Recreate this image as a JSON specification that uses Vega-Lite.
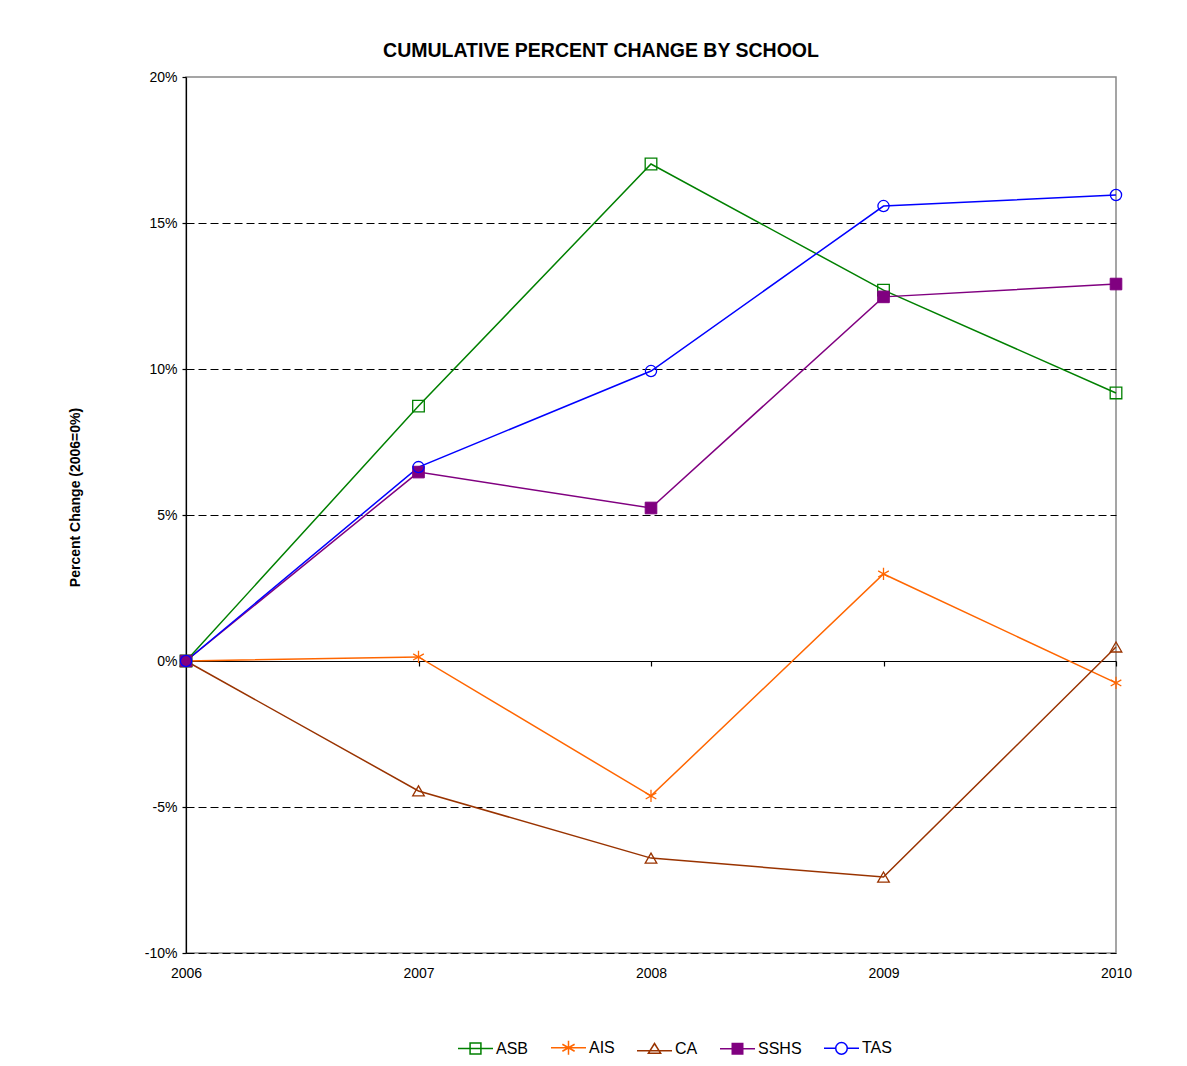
{
  "$schema": "https://vega.github.io/schema/vega-lite/v6.json",
  "width": 930,
  "height": 876,
  "autosize": "none",
  "padding": {"left": 186, "top": 77, "right": 71, "bottom": 113},
  "background": "white",
  "title": {
    "text": "CUMULATIVE PERCENT CHANGE BY SCHOOL",
    "fontSize": 19.5,
    "fontWeight": "bold",
    "color": "black",
    "font": "Liberation Sans",
    "dx": -50,
    "offset": 9
  },
  "config": {
    "font": "Liberation Sans",
    "view": {"stroke": "#888888", "strokeWidth": 1.5},
    "legend": {
      "orient": "none", "legendX": 271, "legendY": 952,
      "direction": "horizontal",
      "symbolSize": 1225, "symbolStrokeWidth": 1.5, "symbolOpacity": 1,
      "symbolFillColor": "transparent",
      "labelFontSize": 16, "labelColor": "black", "labelOffset": 2,
      "columnPadding": 19
    }
  },
  "data": {
    "values": [
      {"year": 2006, "school": "ASB", "value": 0},
      {"year": 2007, "school": "ASB", "value": 8.73},
      {"year": 2008, "school": "ASB", "value": 17.02},
      {"year": 2009, "school": "ASB", "value": 12.7},
      {"year": 2010, "school": "ASB", "value": 9.18},
      {"year": 2006, "school": "AIS", "value": 0},
      {"year": 2007, "school": "AIS", "value": 0.14},
      {"year": 2008, "school": "AIS", "value": -4.62},
      {"year": 2009, "school": "AIS", "value": 2.98},
      {"year": 2010, "school": "AIS", "value": -0.75},
      {"year": 2006, "school": "CA", "value": 0},
      {"year": 2007, "school": "CA", "value": -4.45},
      {"year": 2008, "school": "CA", "value": -6.75},
      {"year": 2009, "school": "CA", "value": -7.4},
      {"year": 2010, "school": "CA", "value": 0.48},
      {"year": 2006, "school": "SSHS", "value": 0},
      {"year": 2007, "school": "SSHS", "value": 6.47},
      {"year": 2008, "school": "SSHS", "value": 5.24},
      {"year": 2009, "school": "SSHS", "value": 12.47},
      {"year": 2010, "school": "SSHS", "value": 12.91},
      {"year": 2006, "school": "TAS", "value": 0},
      {"year": 2007, "school": "TAS", "value": 6.64},
      {"year": 2008, "school": "TAS", "value": 9.93},
      {"year": 2009, "school": "TAS", "value": 15.58},
      {"year": 2010, "school": "TAS", "value": 15.96}
    ]
  },
  "layer": [
    {
      "mark": {"type": "line", "strokeWidth": 1.5},
      "encoding": {
        "x": {
          "field": "year", "type": "quantitative",
          "scale": {"domain": [2006, 2010], "nice": false, "zero": false},
          "axis": {
            "orient": "bottom",
            "values": [2006, 2007, 2008, 2009, 2010],
            "format": "d",
            "domain": false, "ticks": false, "grid": false,
            "labelFontSize": 14, "labelColor": "black", "labelPadding": 13,
            "labelFlush": false,
            "title": null
          }
        },
        "y": {
          "field": "value", "type": "quantitative",
          "scale": {"domain": [-10, 20], "nice": false, "zero": false},
          "axis": {
            "values": [-10, -5, 0, 5, 10, 15, 20],
            "labelExpr": "datum.value + '%'",
            "domainColor": "black", "domainWidth": 1.2,
            "tickColor": "black", "tickSize": 4, "tickWidth": 1.2,
            "labelFontSize": 14, "labelColor": "black", "labelPadding": 5,
            "grid": true,
            "gridColor": {"condition": {"test": "datum.value == 20 || datum.value == 0", "value": "transparent"}, "value": "black"},
            "gridDash": [8, 4], "gridWidth": 1,
            "title": "Percent Change (2006=0%)",
            "titleFontSize": 14, "titleFontWeight": "bold", "titleColor": "black",
            "titlePadding": 62, "titleY": 420
          }
        },
        "color": {
          "field": "school", "type": "nominal", "title": null,
          "scale": {"domain": ["ASB", "AIS", "CA", "SSHS", "TAS"], "range": ["#008000", "#FF6600", "#993300", "#800080", "#0000FF"]}
        }
      }
    },
    {
      "transform": [{"filter": "datum.school === 'ASB'"}],
      "mark": {"type": "point", "shape": "square", "filled": false, "opacity": 1, "strokeWidth": 1.3, "size": 135},
      "encoding": {
        "x": {
          "field": "year", "type": "quantitative",
          "axis": {
            "orient": "bottom",
            "offset": -292,
            "values": [2006, 2007, 2008, 2009, 2010],
            "labels": false, "grid": false,
            "domainColor": "black", "domainWidth": 1.2,
            "tickColor": "black", "tickSize": 5, "tickWidth": 1.2,
            "title": null
          }
        },
        "y": {"field": "value", "type": "quantitative"},
        "color": {"field": "school", "type": "nominal", "title": null}
      }
    },
    {
      "transform": [{"filter": "datum.school === 'AIS'"}],
      "mark": {"type": "point", "shape": "M0,-1V1M-0.87,-0.5L0.87,0.5M-0.87,0.5L0.87,-0.5", "filled": false, "opacity": 1, "strokeWidth": 1.3, "size": 150},
      "encoding": {
        "x": {"field": "year", "type": "quantitative", "axis": null},
        "y": {"field": "value", "type": "quantitative"},
        "color": {"field": "school", "type": "nominal", "title": null}
      }
    },
    {
      "transform": [{"filter": "datum.school === 'CA'"}],
      "mark": {"type": "point", "shape": "triangle-up", "filled": false, "opacity": 1, "strokeWidth": 1.3, "size": 135},
      "encoding": {
        "x": {"field": "year", "type": "quantitative", "axis": null},
        "y": {"field": "value", "type": "quantitative"},
        "color": {"field": "school", "type": "nominal", "title": null}
      }
    },
    {
      "transform": [{"filter": "datum.school === 'SSHS'"}],
      "mark": {"type": "point", "shape": "square", "filled": false, "fill": "#800080", "stroke": "#800080", "strokeWidth": 1, "opacity": 1, "size": 135},
      "encoding": {
        "x": {"field": "year", "type": "quantitative", "axis": null},
        "y": {"field": "value", "type": "quantitative"}
      }
    },
    {
      "transform": [{"filter": "datum.school === 'TAS'"}],
      "mark": {"type": "point", "shape": "circle", "filled": false, "opacity": 1, "strokeWidth": 1.3, "size": 125},
      "encoding": {
        "x": {"field": "year", "type": "quantitative", "axis": null},
        "y": {"field": "value", "type": "quantitative"},
        "color": {"field": "school", "type": "nominal", "title": null}
      }
    },
    {
      "mark": {"type": "point", "filled": false, "opacity": 0, "size": 10},
      "encoding": {
        "x": {"field": "year", "type": "quantitative", "axis": null},
        "y": {"field": "value", "type": "quantitative"},
        "color": {"field": "school", "type": "nominal", "title": null},
        "shape": {
          "field": "school", "type": "nominal", "title": null,
          "scale": {"domain": ["ASB", "AIS", "CA", "SSHS", "TAS"], "range": [
            "M-1,0H1M-0.31,-0.31H0.31V0.31H-0.31Z",
            "M-1,0H1M0,-0.4V0.4M-0.35,-0.2L0.35,0.2M-0.35,0.2L0.35,-0.2",
            "M-1,0.12H1M0,-0.3L0.35,0.26H-0.35Z",
            "M-1,0H1M-0.3,-0.3H0.3V0.3H-0.3ZM-0.3,-0.24H0.3M-0.3,-0.18H0.3M-0.3,-0.12H0.3M-0.3,-0.06H0.3M-0.3,0.06H0.3M-0.3,0.12H0.3M-0.3,0.18H0.3M-0.3,0.24H0.3",
            "M-1,0H-0.33M0.33,0H1M-0.33,0A0.33,0.33,0,1,0,0.33,0A0.33,0.33,0,1,0,-0.33,0"
          ]}
        }
      }
    }
  ],
  "resolve": {"axis": {"x": "independent"}}
}
